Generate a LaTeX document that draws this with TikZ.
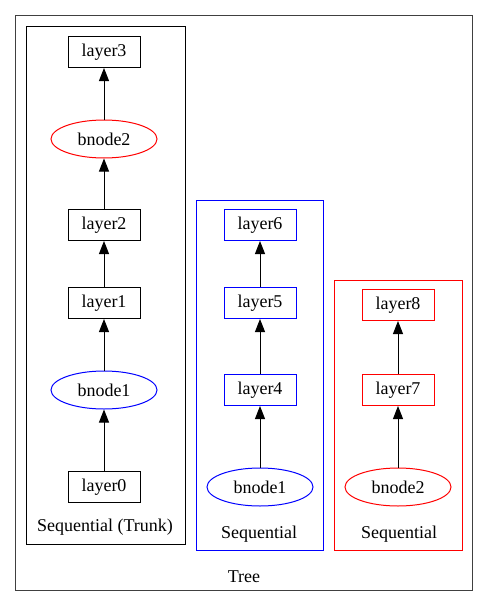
\documentclass[tikz,border=0pt]{standalone}
\usepackage{fontspec}
\setmainfont{Liberation Serif}
\usetikzlibrary{arrows.meta,shapes.geometric}
\begin{document}
\begin{tikzpicture}[x=1pt,y=-1pt,
  lay/.style={draw,rectangle,minimum width=72pt,minimum height=31pt,inner sep=0pt,font=\fontsize{18}{20}\selectfont,line width=1pt},
  bn/.style={draw,ellipse,minimum width=106pt,minimum height=38pt,inner sep=0pt,font=\fontsize{18}{20}\selectfont,line width=1pt},
  clus/.style={draw,line width=1pt},
  lbl/.style={font=\fontsize{18}{20}\selectfont,inner sep=0pt},
  arr/.style={-{Triangle[length=13pt,width=10pt]},line width=1pt}]
\useasboundingbox (0,0) rectangle (489,608);
\draw[clus,black!75] (15,15) rectangle (472,590);
\node[lbl] (tree) at (244,577) {Tree};
% trunk
\draw[clus] (26,26) rectangle (185,544);
\node[lbl] (tl) at (105,527) {Sequential (Trunk)};
\node[lay] (l3) at (104,52) {layer3};
\node[bn,red] (b2) at (104,139) {\textcolor{black}{bnode2}};
\node[lay] (l2) at (104,225) {layer2};
\node[lay] (l1) at (104,303) {layer1};
\node[bn,blue] (b1) at (104,390) {\textcolor{black}{bnode1}};
\node[lay] (l0) at (104,487) {layer0};
\draw[arr] (l0) -- (b1);
\draw[arr] (b1) -- (l1);
\draw[arr] (l1) -- (l2);
\draw[arr] (l2) -- (b2);
\draw[arr] (b2) -- (l3);
% blue
\draw[clus,blue] (196,200) rectangle (323,550);
\node[lbl] (ml) at (259,534) {Sequential};
\node[lay,blue] (l6) at (260,225) {\textcolor{black}{layer6}};
\node[lay,blue] (l5) at (260,303) {\textcolor{black}{layer5}};
\node[lay,blue] (l4) at (260,390) {\textcolor{black}{layer4}};
\node[bn,blue] (mb1) at (260,487) {\textcolor{black}{bnode1}};
\draw[arr] (mb1) -- (l4);
\draw[arr] (l4) -- (l5);
\draw[arr] (l5) -- (l6);
% red
\draw[clus,red] (334,280) rectangle (462,550);
\node[lbl] (rl) at (399,534) {Sequential};
\node[lay,red] (l8) at (398,305) {\textcolor{black}{layer8}};
\node[lay,red] (l7) at (398,390) {\textcolor{black}{layer7}};
\node[bn,red] (rb2) at (398,487) {\textcolor{black}{bnode2}};
\draw[arr] (rb2) -- (l7);
\draw[arr] (l7) -- (l8);
\end{tikzpicture}
\end{document}
